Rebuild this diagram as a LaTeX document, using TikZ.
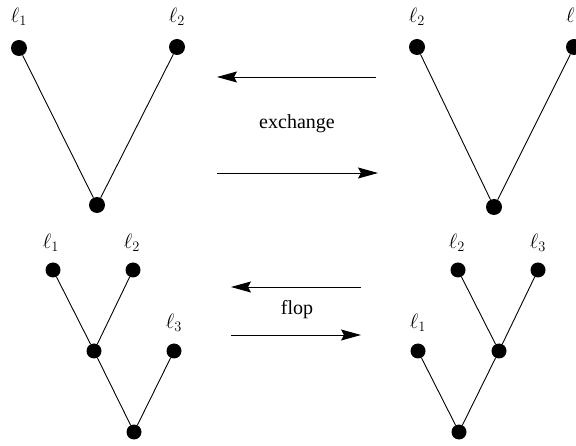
\documentclass[tikz,border=0pt]{standalone}
\usepackage{fontspec}
\setmainfont{Liberation Serif}
\usetikzlibrary{arrows.meta}
\begin{document}
\begin{tikzpicture}[x=1pt,y=-1pt,
  big/.style={circle,fill=black,inner sep=0pt,minimum size=16pt},
  small/.style={circle,fill=black,inner sep=0pt,minimum size=15pt},
  lbl/.style={inner sep=0pt,font=\fontsize{20}{24}\selectfont},
  edge/.style={line width=0.9pt},
  arr/.style={line width=0.9pt,-{Stealth[length=20pt,width=11pt,inset=3pt]}}]
\useasboundingbox (0,0) rectangle (576,446);
% top left tree
\node[big] (a1) at (19,48) {};
\node[big] (a2) at (177,47) {};
\node[big] (a0) at (97,205) {};
\node[lbl] (la1) at (19,17) {$\ell_1$};
\node[lbl] (la2) at (177,17) {$\ell_2$};
\draw[edge] (a1) -- (a0) -- (a2);
% top right tree
\node[big] (b2) at (417,47) {};
\node[big] (b1) at (574,47) {};
\node[big] (b0) at (494,207) {};
\node[lbl] (lb2) at (417,17) {$\ell_2$};
\node[lbl,anchor=west] (lb1) at (566,17) {$\ell_1$};
\draw[edge] (b2) -- (b0) -- (b1);
% exchange arrows
\coordinate (e1s) at (376,77); \coordinate (e1e) at (217,77);
\coordinate (e2s) at (217,173); \coordinate (e2e) at (378,173);
\draw[arr] (e1s) -- (e1e);
\draw[arr] (e2s) -- (e2e);
\node[font=\fontsize{20}{24}\selectfont] (ex) at (297,124) {exchange};
% bottom left tree
\node[small] (c1) at (53,270) {};
\node[small] (c2) at (133,270) {};
\node[small] (cm) at (94,351) {};
\node[small] (c3) at (174,351) {};
\node[small] (c0) at (134,432) {};
\node[lbl] (lc1) at (51,243) {$\ell_1$};
\node[lbl] (lc2) at (132,243) {$\ell_2$};
\node[lbl] (lc3) at (174,323) {$\ell_3$};
\draw[edge] (c1) -- (cm) -- (c2);
\draw[edge] (cm) -- (c0) -- (c3);
% bottom right tree
\node[small] (d2) at (458,270) {};
\node[small] (d3) at (538,270) {};
\node[small] (dm) at (499,351) {};
\node[small] (d1) at (418,351) {};
\node[small] (d0) at (459,432) {};
\node[lbl] (ld2) at (457,243) {$\ell_2$};
\node[lbl] (ld3) at (538,243) {$\ell_3$};
\node[lbl] (ld1) at (418,323) {$\ell_1$};
\draw[edge] (d2) -- (dm) -- (d3);
\draw[edge] (d1) -- (d0) -- (dm);
% flop arrows
\coordinate (f1s) at (361,287); \coordinate (f1e) at (231,287);
\coordinate (f2s) at (231,335); \coordinate (f2e) at (361,335);
\draw[arr] (f1s) -- (f1e);
\draw[arr] (f2s) -- (f2e);
\node[font=\fontsize{20}{24}\selectfont] (fl) at (297,310) {flop};
\end{tikzpicture}
\end{document}
